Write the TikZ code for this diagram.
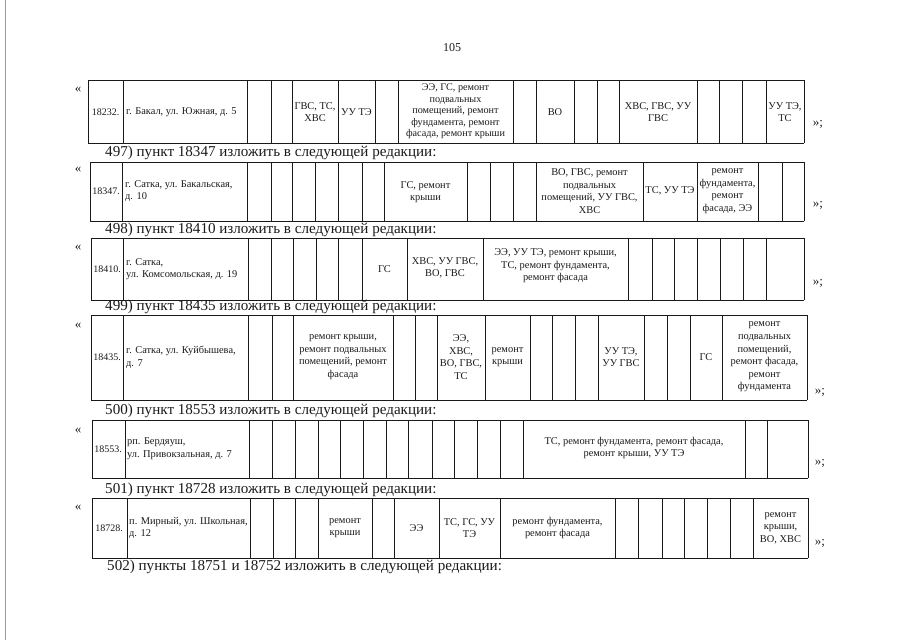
\documentclass[tikz,border=0pt]{standalone}
\usepackage{fontspec}
\setmainfont{Liberation Serif}
\usepackage{xcolor}
\usepackage{tikz}
\usetikzlibrary{positioning}
\definecolor{ink}{HTML}{1a1a1a}
\definecolor{scanedge}{HTML}{9a9a9a}

% frame of one table row: top, bottom, column borders
\newcommand{\rowframe}[3]{%
  \foreach \cx [count=\ci] in {#3} {
    \draw[gridline] (\cx,#1) -- (\cx,#2);
    \ifnum\ci=1 \xdef\rowleft{\cx}\fi
    \xdef\rowright{\cx}
  }
  \draw[gridline] (\rowleft,#1) -- (\rowright,#1);
  \draw[gridline] (\rowleft,#2) -- (\rowright,#2);
}

\begin{document}
\begin{tikzpicture}[
        x=1pt, y=-1pt,
        gridline/.style={
            line width=0.6pt,
            draw=ink
        },
        cell/.style={
            inner sep=0pt,
            align=center,
            text=ink,
            font=\fontsize{10.4}{12.6}\selectfont
        },
        tightcell/.style={
            cell,
            font=\fontsize{10.2}{11.6}\selectfont
        },
        addr/.style={
            cell,
            anchor=west,
            align=left
        },
        num/.style={
            cell,
            font=\fontsize{10}{11}\selectfont
        },
        heading/.style={
            inner sep=0pt,
            anchor=west,
            text=ink,
            font=\fontsize{15.1}{17}\selectfont
        },
        quote/.style={
            inner sep=0pt,
            text=ink,
            font=\fontsize{13}{15}\selectfont
        }
    ]
        \useasboundingbox (0,0) rectangle (905,640);
        \draw[scanedge, line width=0.5pt] (5,0) -- (5,640);

        \node[quote, font=\fontsize{12}{14}\selectfont] (page) at (452,48) {105};

        % 18232
        \rowframe{80}{143}{88,123,247,271,292,338,375,398,513,536,574,597,619,697,719,742,766,804}
        \node[quote] (open1) at (78,90) {«};
        \node[num] (n1) at (105.5,112) {18232.};
        \node[addr] (a1) at (126,112) {г. Бакал, ул. Южная, д. 5};
        \node[cell] (c1a) at (315,112) {ГВС, ТС,\\ХВС};
        \node[cell] (c1b) at (356.5,112) {УУ ТЭ};
        \node[tightcell] (c1c) at (455.5,111.5) {ЭЭ, ГС, ремонт\\подвальных\\помещений, ремонт\\фундамента, ремонт\\фасада, ремонт крыши};
        \node[cell] (c1d) at (555,112) {ВО};
        \node[cell] (c1e) at (658,112) {ХВС, ГВС, УУ\\ГВС};
        \node[cell] (c1f) at (785,112) {УУ ТЭ,\\ТС};
        \node[quote] (close1) at (818,124) {»;};

        \node[heading] (h497) at (105,153) {497) пункт 18347 изложить в следующей редакции:};

        % 18347
        \rowframe{162}{221}{90,122,247,271,292,315,338,362,384,467,490,513,536,643,697,758,782,804}
        \node[quote] (open2) at (78,170) {«};
        \node[num] (n2) at (106,191) {18347.};
        \node[addr] (a2) at (125,191) {г. Сатка, ул. Бакальская,\\д. 10};
        \node[cell] (c2a) at (425.5,192) {ГС, ремонт\\крыши};
        \node[cell] (c2b) at (589.5,191) {ВО, ГВС, ремонт\\подвальных\\помещений, УУ ГВС,\\ХВС};
        \node[cell] (c2c) at (670,191) {ТС, УУ ТЭ};
        \node[cell] (c2d) at (727.5,191) {ремонт\\фундамента,\\ремонт\\фасада, ЭЭ};
        \node[quote] (close2) at (818,205) {»;};

        \node[heading] (h498) at (105,230) {498) пункт 18410 изложить в следующей редакции:};

        % 18410
        \rowframe{238}{300}{91,123,248,271,293,316,338,362,407,483,628,652,674,697,720,743,766,804}
        \node[quote] (open3) at (78,248) {«};
        \node[num] (n3) at (107,269) {18410.};
        \node[addr] (a3) at (126,269) {г. Сатка,\\ул. Комсомольская, д. 19};
        \node[cell] (c3a) at (384.5,269) {ГС};
        \node[cell] (c3b) at (445,268) {ХВС, УУ ГВС,\\ВО, ГВС};
        \node[cell] (c3c) at (555.5,266) {ЭЭ, УУ ТЭ, ремонт крыши,\\ТС, ремонт фундамента,\\ремонт фасада};
        \node[quote] (close3) at (818,283) {»;};

        \node[heading] (h499) at (105,307) {499) пункт 18435 изложить в следующей редакции:};

        % 18435
        \rowframe{315}{400}{91,123,248,272,293,393,415,437,485,530,552,575,598,644,667,690,722,807}
        \node[quote] (open4) at (78,326) {«};
        \node[num] (n4) at (107,357) {18435.};
        \node[addr] (a4) at (126,357) {г. Сатка, ул. Куйбышева,\\д. 7};
        \node[cell] (c4a) at (343,357) {ремонт крыши,\\ремонт подвальных\\помещений, ремонт\\фасада};
        \node[cell] (c4b) at (461,357) {ЭЭ,\\ХВС,\\ВО, ГВС,\\ТС};
        \node[cell] (c4c) at (507.5,357) {ремонт\\крыши};
        \node[cell] (c4d) at (621,357) {УУ ТЭ,\\УУ ГВС};
        \node[cell] (c4e) at (706,357) {ГС};
        \node[cell] (c4f) at (764.5,357) {ремонт\\подвальных\\помещений,\\ремонт фасада,\\ремонт\\фундамента};
        \node[quote] (close4) at (820,392) {»;};

        \node[heading] (h500) at (105,411) {500) пункт 18553 изложить в следующей редакции:};

        % 18553
        \rowframe{420}{478}{92,125,249,272,295,318,340,363,386,408,432,454,477,500,523,745,767,808}
        \node[quote] (open5) at (78,431) {«};
        \node[num] (n5) at (108,449) {18553.};
        \node[addr] (a5) at (127,449) {рп. Бердяуш,\\ул. Привокзальная, д. 7};
        \node[cell] (c5a) at (634,448) {ТС, ремонт фундамента, ремонт фасада,\\ремонт крыши, УУ ТЭ};
        \node[quote] (close5) at (820,463) {»;};

        \node[heading] (h501) at (105,490) {501) пункт 18728 изложить в следующей редакции:};

        % 18728
        \rowframe{498}{558}{92,127,250,273,295,318,372,394,439,500,615,638,662,684,707,730,753,808}
        \node[quote] (open6) at (78,508) {«};
        \node[num] (n6) at (109,528) {18728.};
        \node[addr] (a6) at (129,528) {п. Мирный, ул. Школьная,\\д. 12};
        \node[cell] (c6a) at (345,528) {ремонт\\крыши};
        \node[cell] (c6b) at (416.5,528) {ЭЭ};
        \node[cell] (c6c) at (469.5,528) {ТС, ГС, УУ\\ТЭ};
        \node[cell] (c6d) at (557.5,528) {ремонт фундамента,\\ремонт фасада};
        \node[cell] (c6e) at (780.5,528) {ремонт\\крыши,\\ВО, ХВС};
        \node[quote] (close6) at (820,543) {»;};

        \node[heading] (h502) at (107,567) {502) пункты 18751 и 18752 изложить в следующей редакции:};
    \end{tikzpicture}
\end{document}
